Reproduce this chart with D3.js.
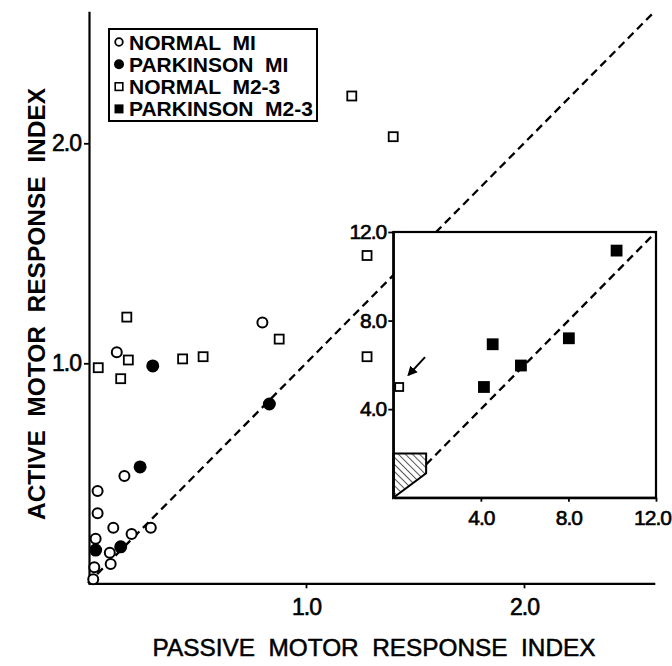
<!DOCTYPE html>
<html>
<head>
<meta charset="utf-8">
<script src="https://cdn.jsdelivr.net/npm/d3@7/dist/d3.min.js"></script>
<style>
  html, body { margin: 0; padding: 0; background: #fff; }
  svg { display: block; }
  text { font-family: "Liberation Sans", Arial, sans-serif; fill: #000; }
</style>
</head>
<body>
<svg id="chart" width="672" height="666"></svg>
<script>
// ---- data (main plot) ----
const normalMI = [[0.132,1.05],[0.80,1.185],[0.167,0.488],[0.044,0.42],[0.044,0.318],[0.116,0.253],
  [0.035,0.203],[0.20,0.224],[0.288,0.253],[0.10,0.139],[0.104,0.088],[0.029,0.073],[0.024,0.018]];
const parkinsonMI = [[0.297,0.988],[0.832,0.815],[0.239,0.529],[0.035,0.151],[0.15,0.166]];
const normalM23 = [[0.178,1.21],[0.047,0.98],[0.185,1.015],[0.15,0.93],[0.434,1.02],[0.528,1.03],
  [0.877,1.11],[1.21,2.215],[1.40,2.03],[1.28,1.49],[1.28,1.03]];
// ---- data (inset) ----
const insetNormalM23 = [[0.27,5.0]];
const insetParkinsonM23 = [[4.14,5.0],[4.54,6.93],[5.83,5.97],[8.02,7.2],[10.2,11.16]];
// ---- ticks / labels ----
const mainTicks = [1.0, 2.0];
const insetTicks = [4.0, 8.0, 12.0];
const legendLabels = ["NORMAL  MI", "PARKINSON  MI", "NORMAL  M2-3", "PARKINSON  M2-3"];
const xTitle = "PASSIVE  MOTOR  RESPONSE  INDEX";
const yTitle = "ACTIVE  MOTOR  RESPONSE  INDEX";

const svg = d3.select("#chart");
const fmt = d3.format(".1f");

// main scales
const x = d3.scaleLinear().domain([0, 2.6]).range([88, 654.8]);
const y = d3.scaleLinear().domain([0, 2.6]).range([583.3, 11.3]);

// diagonal identity line
svg.append("line")
  .attr("x1", x(0)).attr("y1", y(0)).attr("x2", x(2.6)).attr("y2", y(2.6))
  .attr("stroke", "#000").attr("stroke-width", 2.3).attr("stroke-dasharray", "8,5");

function styleAxis(g, fs) {
  g.select(".domain").attr("stroke", "#000").attr("stroke-width", 2.2);
  g.selectAll(".tick line").attr("stroke", "#000").attr("stroke-width", 1.8);
  g.selectAll(".tick text").attr("font-size", fs).attr("fill", "#000")
   .attr("letter-spacing", -1).attr("stroke", "#000").attr("stroke-width", 0.6)
   .style("font-family", "'Liberation Sans', Arial, sans-serif");
}

// axes
const xAxis = svg.append("g").attr("transform", `translate(0,${y(0)})`)
  .call(d3.axisBottom(x).tickValues(mainTicks).tickFormat(fmt).tickSize(5).tickSizeOuter(0).tickPadding(10));
const yAxis = svg.append("g").attr("transform", `translate(${x(0)+1},0)`)
  .call(d3.axisLeft(y).tickValues(mainTicks).tickFormat(fmt).tickSize(5).tickSizeOuter(0).tickPadding(3));
styleAxis(xAxis, 23);
styleAxis(yAxis, 23);

// symbols
function circles(g, data, sx, sy, filled, r) {
  g.selectAll(null).data(data).enter().append("circle")
    .attr("cx", d => sx(d[0])).attr("cy", d => sy(d[1])).attr("r", r)
    .attr("fill", filled ? "#000" : "#fff").attr("stroke", "#000").attr("stroke-width", 2);
}
function squares(g, data, sx, sy, filled, s) {
  g.selectAll(null).data(data).enter().append("rect")
    .attr("x", d => sx(d[0]) - s/2).attr("y", d => sy(d[1]) - s/2)
    .attr("width", s).attr("height", s)
    .attr("fill", filled ? "#000" : "#fff").attr("stroke", "#000").attr("stroke-width", 1.8);
}
const gMain = svg.append("g");
squares(gMain, normalM23, x, y, false, 9);
circles(gMain, normalMI, x, y, false, 5);
circles(gMain, parkinsonMI, x, y, true, 5.5);

// ---- inset ----
const ix = d3.scaleLinear().domain([0, 12]).range([393.3, 656]);
const iy = d3.scaleLinear().domain([0, 12]).range([497.7, 232]);
const gIn = svg.append("g");
gIn.append("rect").attr("x", ix(0)).attr("y", iy(12)).attr("width", ix(12)-ix(0)).attr("height", iy(0)-iy(12))
  .attr("fill", "#fff").attr("stroke", "#000").attr("stroke-width", 2.2);

// hatch pattern
const defs = svg.append("defs");
const pat = defs.append("pattern").attr("id", "hatch").attr("patternUnits", "userSpaceOnUse")
  .attr("width", 5).attr("height", 5).attr("patternTransform", "rotate(-45)");
pat.append("line").attr("x1", 0).attr("y1", 0).attr("x2", 0).attr("y2", 5)
  .attr("stroke", "#000").attr("stroke-width", 1.3);
const hatchPts = [[0,0],[0,2.0],[1.5,2.0],[1.5,1.1]];
gIn.append("polygon")
  .attr("points", hatchPts.map(p => [ix(p[0]), iy(p[1])].join(",")).join(" "))
  .attr("fill", "url(#hatch)").attr("stroke", "#000").attr("stroke-width", 2);

// inset diagonal
gIn.append("line")
  .attr("x1", ix(1.5)).attr("y1", iy(1.5)).attr("x2", ix(12)).attr("y2", iy(12))
  .attr("stroke", "#000").attr("stroke-width", 2.3).attr("stroke-dasharray", "8,5");

const ixAxis = gIn.append("g").attr("transform", `translate(0,${iy(0)})`)
  .call(d3.axisBottom(ix).tickValues(insetTicks).tickFormat(fmt).tickSize(4).tickSizeOuter(0).tickPadding(8));
const iyAxis = gIn.append("g").attr("transform", `translate(${ix(0)},0)`)
  .call(d3.axisLeft(iy).tickValues(insetTicks).tickFormat(fmt).tickSize(5).tickSizeOuter(0).tickPadding(2));
styleAxis(ixAxis, 21);
styleAxis(iyAxis, 21);
// keep last inset x label inside the page
ixAxis.selectAll(".tick text").filter(d => d === 12).attr("dx", -4);

squares(gIn, insetNormalM23, ix, iy, false, 8);
squares(gIn, insetParkinsonM23, ix, iy, true, 10);

// arrow pointing at inset open square
defs.append("marker").attr("id", "arrowhead").attr("viewBox", "0 0 10 10")
  .attr("refX", 8).attr("refY", 5).attr("markerWidth", 5).attr("markerHeight", 5).attr("orient", "auto")
  .append("path").attr("d", "M0,0 L10,5 L0,10 Z").attr("fill", "#000");
gIn.append("line")
  .attr("x1", ix(1.45)).attr("y1", iy(6.35)).attr("x2", ix(0.7)).attr("y2", iy(5.55))
  .attr("stroke", "#000").attr("stroke-width", 2).attr("marker-end", "url(#arrowhead)");

// ---- legend ----
const gLeg = svg.append("g");
gLeg.append("rect").attr("x", 109).attr("y", 29).attr("width", 208).attr("height", 92)
  .attr("fill", "#fff").attr("stroke", "#000").attr("stroke-width", 2);
legendLabels.forEach((lab, i) => {
  const cy = 42 + i * 22.3;
  const cx = 119;
  if (i === 0) gLeg.append("circle").attr("cx", cx).attr("cy", cy).attr("r", 3.8).attr("fill", "#fff").attr("stroke", "#000").attr("stroke-width", 1.8);
  if (i === 1) gLeg.append("circle").attr("cx", cx).attr("cy", cy).attr("r", 5).attr("fill", "#000");
  if (i === 2) gLeg.append("rect").attr("x", cx-3.8).attr("y", cy-3.8).attr("width", 7.6).attr("height", 7.6).attr("fill", "#fff").attr("stroke", "#000").attr("stroke-width", 1.6);
  if (i === 3) gLeg.append("rect").attr("x", cx-4.5).attr("y", cy-4.5).attr("width", 9).attr("height", 9).attr("fill", "#000");
  gLeg.append("text").attr("x", 129).attr("y", cy + 7.5).attr("font-size", 21).attr("font-weight", "bold")
    .style("white-space", "pre").text(lab);
});

// ---- axis titles ----
svg.append("text").attr("x", 374).attr("y", 656).attr("text-anchor", "middle")
  .attr("font-size", 24).attr("textLength", 443).attr("lengthAdjust", "spacingAndGlyphs")
  .attr("stroke", "#000").attr("stroke-width", 0.5)
  .style("white-space", "pre").text(xTitle);
svg.append("text").attr("transform", "translate(45,304) rotate(-90)").attr("text-anchor", "middle")
  .attr("font-size", 24).attr("font-weight", "bold").attr("textLength", 432).attr("lengthAdjust", "spacingAndGlyphs")
  .style("white-space", "pre").text(yTitle);
</script>
</body>
</html>
